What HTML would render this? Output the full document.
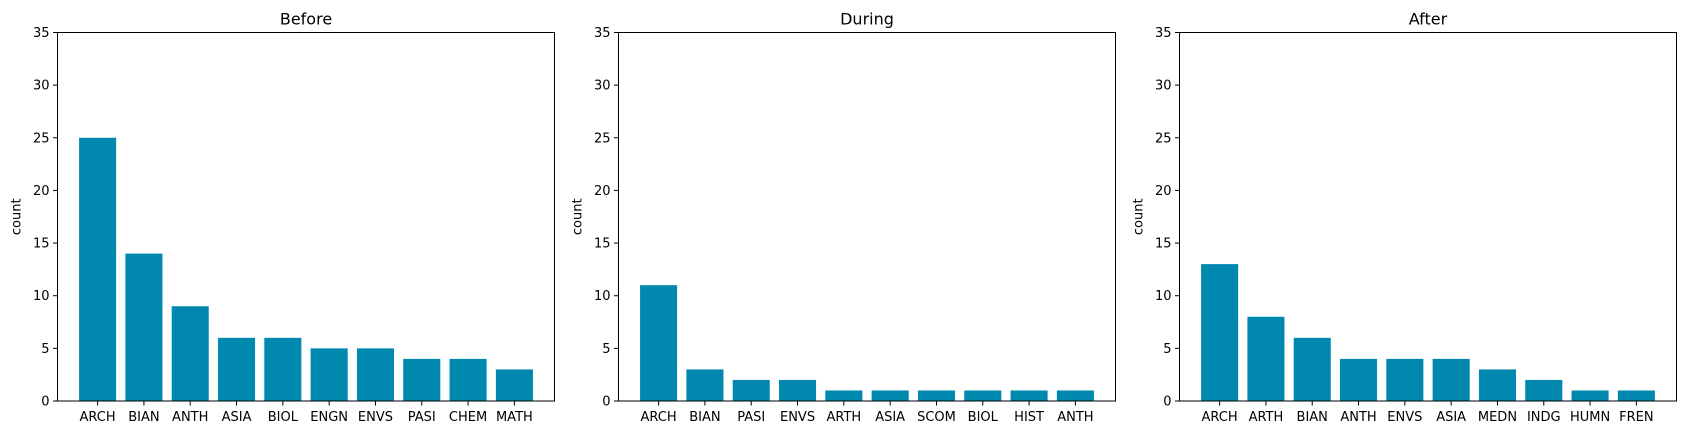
<!DOCTYPE html>
<html><head><meta charset="utf-8"><style>
html,body{margin:0;padding:0;background:#fff;width:1686px;height:435px;overflow:hidden}
svg text{font-family:"DejaVu Sans","Liberation Sans",sans-serif;fill:#000}
</style></head><body>
<svg id="chart" width="1686" height="435" xmlns="http://www.w3.org/2000/svg"></svg>
<script>
const titles = ["Before","During","After"];
const catsBefore = ["ARCH","BIAN","ANTH","ASIA","BIOL","ENGN","ENVS","PASI","CHEM","MATH"];
const valsBefore = [25,14,9,6,6,5,5,4,4,3];
const catsDuring = ["ARCH","BIAN","PASI","ENVS","ARTH","ASIA","SCOM","BIOL","HIST","ANTH"];
const valsDuring = [11,3,2,2,1,1,1,1,1,1];
const catsAfter = ["ARCH","ARTH","BIAN","ANTH","ENVS","ASIA","MEDN","INDG","HUMN","FREN"];
const valsAfter = [13,8,6,4,4,4,3,2,1,1];
const yTicks = [0,5,10,15,20,25,30,35];
const yMax = 35;

const panels = [[catsBefore,valsBefore],[catsDuring,valsDuring],[catsAfter,valsAfter]];
const NS = "http://www.w3.org/2000/svg";
const svg = document.getElementById("chart");
function mk(tag, attrs, parent){const e=document.createElementNS(NS,tag);for(const k in attrs)e.setAttribute(k,attrs[k]);(parent||svg).appendChild(e);return e;}
const lefts=[57.5,618.5,1179.5], W=497, plotTop=32.5, plotBottom=401;
panels.forEach((p,pi)=>{
  const cats=p[0], vals=p[1], L=lefts[pi];
  const n=cats.length;
  const unit=W/(n-1+2*0.866);
  const xs=i=>L+0.866*unit+i*unit;
  const ys=v=>plotBottom-(v/yMax)*(plotBottom-plotTop);
  const g=mk("g",{});
  
  
  vals.forEach((v,i)=>{
    const r=mk("rect",{x:xs(i)-0.4*unit,y:ys(v),width:0.8*unit,height:plotBottom-ys(v),fill:"#0088AF"},g);
    
    
    mk("line",{x1:xs(i),x2:xs(i),y1:plotBottom,y2:plotBottom+4.5,stroke:"#000","stroke-width":1},g);
    const t=mk("text",{x:xs(i),y:plotBottom+20,"text-anchor":"middle","font-size":"13"},g);
    t.textContent=cats[i];
    
    
  });
  yTicks.forEach(v=>{
    mk("line",{x1:L-4.5,x2:L,y1:ys(v),y2:ys(v),stroke:"#000","stroke-width":1},g);
    const t=mk("text",{x:L-8,y:ys(v)+4.5,"text-anchor":"end","font-size":"13"},g);
    t.textContent=v;
    
    
  });
  const fr=mk("rect",{x:L,y:plotTop,width:W,height:plotBottom-plotTop,fill:"none",stroke:"#000","stroke-width":1},g);
  
  
  const tt=mk("text",{x:L+W/2,y:plotTop-8,"text-anchor":"middle","font-size":"16"},g);
  tt.textContent=titles[pi];
  
  
  const yl=mk("text",{x:0,y:0,"text-anchor":"middle","font-size":"13",transform:`translate(${L-37},${(plotTop+plotBottom)/2}) rotate(-90)`},g);
  yl.textContent="count";
  
  
});
</script>
</body></html>
